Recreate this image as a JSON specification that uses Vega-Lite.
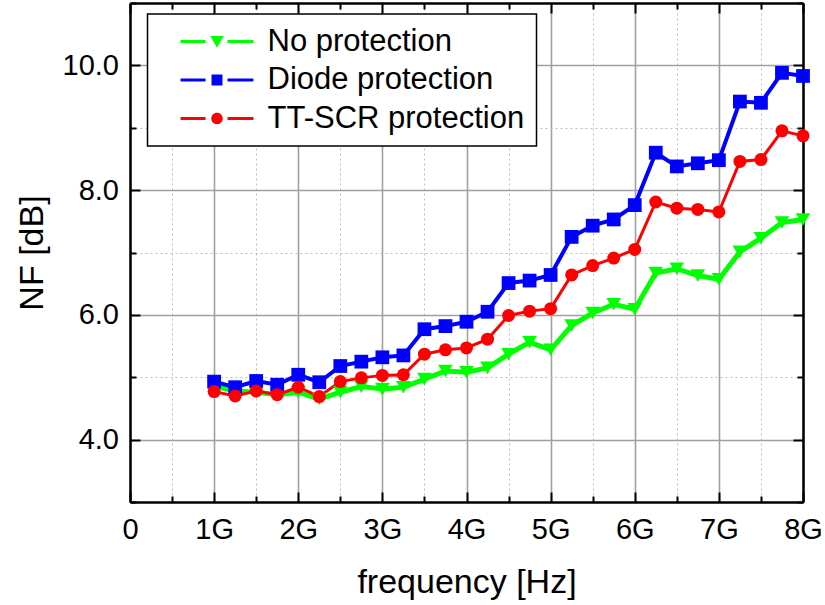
{
  "$schema": "https://vega.github.io/schema/vega-lite/v6.json",
  "width": 673,
  "height": 499,
  "autosize": {"type": "none"},
  "padding": {"left": 130, "top": 3, "right": 22, "bottom": 103},
  "background": "white",
  "config": {"view": {"stroke": null}, "font": "Liberation Sans"},
  "data": {"values": [
    {"s":"No protection","f":1.0,"nf":4.86},{"s":"No protection","f":1.25,"nf":4.78},{"s":"No protection","f":1.5,"nf":4.76},{"s":"No protection","f":1.75,"nf":4.72},
    {"s":"No protection","f":2.0,"nf":4.76},{"s":"No protection","f":2.25,"nf":4.65},{"s":"No protection","f":2.5,"nf":4.76},{"s":"No protection","f":2.75,"nf":4.85},
    {"s":"No protection","f":3.0,"nf":4.81},{"s":"No protection","f":3.25,"nf":4.84},{"s":"No protection","f":3.5,"nf":4.97},{"s":"No protection","f":3.75,"nf":5.10},
    {"s":"No protection","f":4.0,"nf":5.08},{"s":"No protection","f":4.25,"nf":5.15},{"s":"No protection","f":4.5,"nf":5.37},{"s":"No protection","f":4.75,"nf":5.56},
    {"s":"No protection","f":5.0,"nf":5.44},{"s":"No protection","f":5.25,"nf":5.83},{"s":"No protection","f":5.5,"nf":6.03},{"s":"No protection","f":5.75,"nf":6.17},
    {"s":"No protection","f":6.0,"nf":6.09},{"s":"No protection","f":6.25,"nf":6.67},{"s":"No protection","f":6.5,"nf":6.74},{"s":"No protection","f":6.75,"nf":6.63},
    {"s":"No protection","f":7.0,"nf":6.57},{"s":"No protection","f":7.25,"nf":7.01},{"s":"No protection","f":7.5,"nf":7.23},{"s":"No protection","f":7.75,"nf":7.48},
    {"s":"No protection","f":8.0,"nf":7.53},
    {"s":"Diode protection","f":1.0,"nf":4.93},{"s":"Diode protection","f":1.25,"nf":4.84},{"s":"Diode protection","f":1.5,"nf":4.94},{"s":"Diode protection","f":1.75,"nf":4.88},
    {"s":"Diode protection","f":2.0,"nf":5.04},{"s":"Diode protection","f":2.25,"nf":4.92},{"s":"Diode protection","f":2.5,"nf":5.18},{"s":"Diode protection","f":2.75,"nf":5.25},
    {"s":"Diode protection","f":3.0,"nf":5.32},{"s":"Diode protection","f":3.25,"nf":5.35},{"s":"Diode protection","f":3.5,"nf":5.77},{"s":"Diode protection","f":3.75,"nf":5.82},
    {"s":"Diode protection","f":4.0,"nf":5.89},{"s":"Diode protection","f":4.25,"nf":6.05},{"s":"Diode protection","f":4.5,"nf":6.51},{"s":"Diode protection","f":4.75,"nf":6.55},
    {"s":"Diode protection","f":5.0,"nf":6.64},{"s":"Diode protection","f":5.25,"nf":7.25},{"s":"Diode protection","f":5.5,"nf":7.43},{"s":"Diode protection","f":5.75,"nf":7.53},
    {"s":"Diode protection","f":6.0,"nf":7.76},{"s":"Diode protection","f":6.25,"nf":8.60},{"s":"Diode protection","f":6.5,"nf":8.38},{"s":"Diode protection","f":6.75,"nf":8.43},
    {"s":"Diode protection","f":7.0,"nf":8.48},{"s":"Diode protection","f":7.25,"nf":9.42},{"s":"Diode protection","f":7.5,"nf":9.40},{"s":"Diode protection","f":7.75,"nf":9.88},
    {"s":"Diode protection","f":8.0,"nf":9.83},
    {"s":"TT-SCR protection","f":1.0,"nf":4.77},{"s":"TT-SCR protection","f":1.25,"nf":4.70},{"s":"TT-SCR protection","f":1.5,"nf":4.78},{"s":"TT-SCR protection","f":1.75,"nf":4.72},
    {"s":"TT-SCR protection","f":2.0,"nf":4.84},{"s":"TT-SCR protection","f":2.25,"nf":4.69},{"s":"TT-SCR protection","f":2.5,"nf":4.93},{"s":"TT-SCR protection","f":2.75,"nf":4.99},
    {"s":"TT-SCR protection","f":3.0,"nf":5.03},{"s":"TT-SCR protection","f":3.25,"nf":5.04},{"s":"TT-SCR protection","f":3.5,"nf":5.37},{"s":"TT-SCR protection","f":3.75,"nf":5.44},
    {"s":"TT-SCR protection","f":4.0,"nf":5.47},{"s":"TT-SCR protection","f":4.25,"nf":5.61},{"s":"TT-SCR protection","f":4.5,"nf":5.99},{"s":"TT-SCR protection","f":4.75,"nf":6.06},
    {"s":"TT-SCR protection","f":5.0,"nf":6.10},{"s":"TT-SCR protection","f":5.25,"nf":6.64},{"s":"TT-SCR protection","f":5.5,"nf":6.79},{"s":"TT-SCR protection","f":5.75,"nf":6.91},
    {"s":"TT-SCR protection","f":6.0,"nf":7.05},{"s":"TT-SCR protection","f":6.25,"nf":7.81},{"s":"TT-SCR protection","f":6.5,"nf":7.71},{"s":"TT-SCR protection","f":6.75,"nf":7.69},
    {"s":"TT-SCR protection","f":7.0,"nf":7.65},{"s":"TT-SCR protection","f":7.25,"nf":8.46},{"s":"TT-SCR protection","f":7.5,"nf":8.49},{"s":"TT-SCR protection","f":7.75,"nf":8.95},
    {"s":"TT-SCR protection","f":8.0,"nf":8.87}
  ]},
  "resolve": {
    "scale": {"color": "independent", "shape": "independent"},
    "axis": {"x": "independent", "y": "independent"}
  },
  "layer": [
    {
      "mark": {"type": "line", "interpolate": "linear"},
      "encoding": {
        "x": {
          "field": "f", "type": "quantitative",
          "scale": {"domain": [0, 8], "nice": false, "zero": false},
          "axis": {
            "orient": "bottom",
            "values": [0,0.5,1,1.5,2,2.5,3,3.5,4,4.5,5,5.5,6,6.5,7,7.5,8],
            "labelExpr": "datum.value % 1 == 0 ? (datum.value == 0 ? '0' : datum.value + 'G') : ''",
            "labelFont": "Liberation Sans", "labelFontSize": 29, "labelColor": "black",
            "labelBaseline": "alphabetic", "labelPadding": 46, "labelFlush": false, "labelOverlap": false,
            "tickSize": {"condition": {"test": "datum.value % 1 == 0", "value": -10}, "value": -6},
            "tickColor": "black", "tickWidth": 2,
            "grid": true,
            "gridColor": {"condition": {"test": "datum.value % 1 == 0", "value": "#a0a0a0"}, "value": "#bdbdbd"},
            "gridDash": {"condition": {"test": "datum.value % 1 == 0", "value": []}, "value": [2, 3]},
            "gridWidth": {"condition": {"test": "datum.value % 1 == 0", "value": 1.6}, "value": 1},
            "domainColor": "black", "domainWidth": 2.5,
            "title": "frequency [Hz]", "titleFont": "Liberation Sans", "titleFontSize": 34,
            "titleFontWeight": "normal", "titleColor": "black", "titleY": 90, "titleBaseline": "alphabetic"
          }
        },
        "y": {
          "field": "nf", "type": "quantitative",
          "scale": {"domain": [3, 11], "nice": false, "zero": false},
          "axis": {
            "orient": "left",
            "values": [3,4,5,6,7,8,9,10,11],
            "labelExpr": "datum.value % 2 == 0 ? format(datum.value, '.1f') : ''",
            "labelFont": "Liberation Sans", "labelFontSize": 29, "labelColor": "black",
            "labelBaseline": "middle", "labelPadding": 21.5, "labelOverlap": false, "labelFlush": false,
            "tickSize": {"condition": {"test": "datum.value % 2 == 0", "value": -10}, "value": -6},
            "tickColor": "black", "tickWidth": 2,
            "grid": true,
            "gridColor": {"condition": {"test": "datum.value % 2 == 0", "value": "#a0a0a0"}, "value": "#bdbdbd"},
            "gridDash": {"condition": {"test": "datum.value % 2 == 0", "value": []}, "value": [2, 3]},
            "gridWidth": {"condition": {"test": "datum.value % 2 == 0", "value": 1.6}, "value": 1},
            "domainColor": "black", "domainWidth": 2.5,
            "title": "NF [dB]", "titleFont": "Liberation Sans", "titleFontSize": 34,
            "titleFontWeight": "normal", "titleColor": "black", "titleX": -88, "titleBaseline": "alphabetic"
          }
        },
        "color": {
          "field": "s", "type": "nominal", "legend": null,
          "scale": {"domain": ["No protection", "Diode protection", "TT-SCR protection"], "range": ["#00ff00", "#0000ff", "#ff0000"]}
        },
        "strokeWidth": {
          "field": "s", "type": "nominal", "legend": null,
          "scale": {"domain": ["No protection", "Diode protection", "TT-SCR protection"], "range": [5, 3, 3]}
        }
      }
    },
    {
      "mark": {"type": "point", "filled": true, "opacity": 1, "strokeWidth": 0},
      "encoding": {
        "x": {
          "field": "f", "type": "quantitative",
          "scale": {"domain": [0, 8], "nice": false, "zero": false},
          "axis": {
            "orient": "top", "labels": false, "title": null, "grid": false,
            "values": [0,0.5,1,1.5,2,2.5,3,3.5,4,4.5,5,5.5,6,6.5,7,7.5,8],
            "tickSize": {"condition": {"test": "datum.value % 1 == 0", "value": -10}, "value": -6},
            "tickColor": "black", "tickWidth": 2,
            "domainColor": "black", "domainWidth": 2.5
          }
        },
        "y": {
          "field": "nf", "type": "quantitative",
          "scale": {"domain": [3, 11], "nice": false, "zero": false},
          "axis": {
            "orient": "right", "labels": false, "title": null, "grid": false,
            "values": [3,4,5,6,7,8,9,10,11],
            "tickSize": {"condition": {"test": "datum.value % 2 == 0", "value": -10}, "value": -6},
            "tickColor": "black", "tickWidth": 2,
            "domainColor": "black", "domainWidth": 2.5
          }
        },
        "color": {
          "field": "s", "type": "nominal", "legend": null,
          "scale": {"domain": ["No protection", "Diode protection", "TT-SCR protection"], "range": ["#00ff00", "#0000ff", "#ff0000"]}
        },
        "shape": {
          "field": "s", "type": "nominal", "legend": null,
          "scale": {"domain": ["No protection", "Diode protection", "TT-SCR protection"], "range": ["triangle-down", "square", "circle"]}
        },
        "size": {
          "field": "s", "type": "nominal", "legend": null,
          "scale": {"domain": ["No protection", "Diode protection", "TT-SCR protection"], "range": [210, 169, 190]}
        }
      }
    },
    {
      "transform": [{"filter": "false"}],
      "mark": {"type": "point", "filled": true, "opacity": 1, "strokeWidth": 0},
      "encoding": {
        "color": {
          "field": "s", "type": "nominal",
          "scale": {"domain": ["No protection", "Diode protection", "TT-SCR protection"], "range": ["#00ff00", "#0000ff", "#ff0000"]},
          "legend": {
            "orient": "none", "legendX": 17.5, "legendY": 11, "title": null,
            "fillColor": "white", "strokeColor": "black", "cornerRadius": 0,
            "padding": 12, "rowPadding": 6.5, "symbolSize": 196, "symbolOffset": 42, "labelOffset": 35,
            "labelFont": "Liberation Sans", "labelFontSize": 31, "labelColor": "black", "labelLimit": 400,
            "symbolStrokeWidth": 0, "symbolOpacity": 1,
            "encode": {"legend": {"update": {"strokeWidth": {"value": 1.5}}}}
          }
        },
        "shape": {
          "field": "s", "type": "nominal",
          "scale": {"domain": ["No protection", "Diode protection", "TT-SCR protection"], "range": [
            "M-5.2,-0.23H-1.64V0.23H-5.2Z M-0.95,-0.8L0.95,-0.8L0,0.9Z M1.5,-0.23H5.2V0.23H1.5Z",
            "M-5.2,-0.23H-1.64V0.23H-5.2Z M-0.78,-0.78H0.78V0.78H-0.78Z M1.5,-0.23H5.2V0.23H1.5Z",
            "M-5.2,-0.23H-1.64V0.23H-5.2Z M-0.82,0A0.82,0.82 0 1,0 0.82,0A0.82,0.82 0 1,0 -0.82,0Z M1.5,-0.23H5.2V0.23H1.5Z"
          ]},
          "legend": {
            "orient": "none", "legendX": 17.5, "legendY": 11, "title": null,
            "fillColor": "white", "strokeColor": "black", "cornerRadius": 0,
            "padding": 12, "rowPadding": 6.5, "symbolSize": 196, "symbolOffset": 42, "labelOffset": 35,
            "labelFont": "Liberation Sans", "labelFontSize": 31, "labelColor": "black", "labelLimit": 400,
            "symbolStrokeWidth": 0, "symbolOpacity": 1,
            "encode": {"legend": {"update": {"strokeWidth": {"value": 1.5}}}}
          }
        }
      }
    }
  ]
}
